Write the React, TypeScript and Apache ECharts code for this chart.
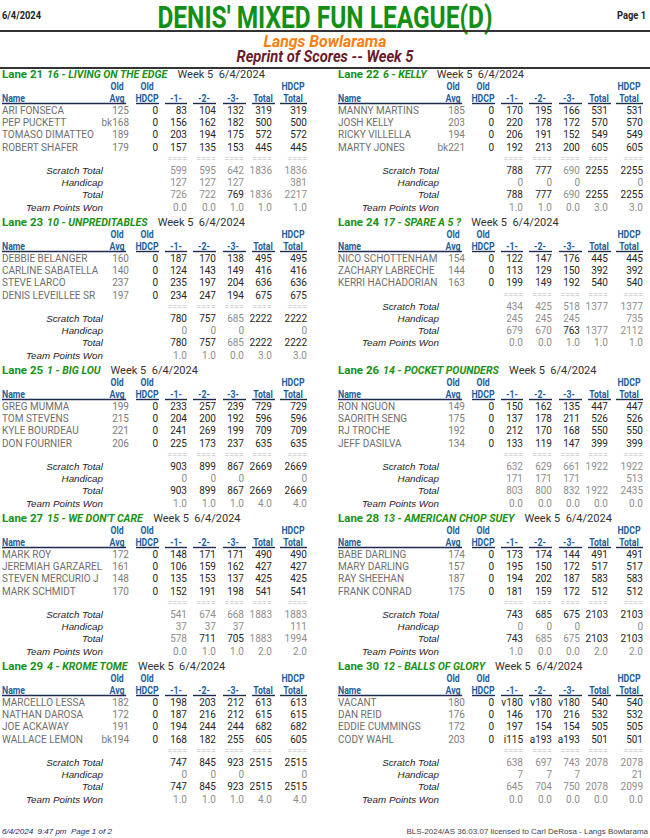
import React, { useEffect, useRef } from "react";
import * as echarts from "echarts";

// ---------- Report texts ----------
const REPORT_DATE = "6/4/2024";
const LEAGUE_TITLE = "DENIS' MIXED FUN LEAGUE(D)";
const PAGE_LABEL = "Page 1";
const CENTER_NAME = "Langs Bowlarama";
const SUBTITLE = "Reprint of Scores -- Week 5";
const WEEK_LABEL = "Week 5  6/4/2024";
const FOOTER_LEFT = "6/4/2024  9:47 pm  Page 1 of 2";
const FOOTER_RIGHT = "BLS-2024/AS 36.03.07 licensed to Carl DeRosa - Langs Bowlarama";
const SUMMARY_LABELS = ["Scratch Total", "Handicap", "Total", "Team Points Won"];

// ---------- Lanes & teams ----------
const LANES = ["Lane 21", "Lane 22", "Lane 23", "Lane 24", "Lane 25", "Lane 26", "Lane 27", "Lane 28", "Lane 29", "Lane 30"];
const TEAMS = [
  "16 - LIVING ON THE EDGE", "6 - KELLY", "10 - UNPREDITABLES", "17 - SPARE A 5 ?",
  "1 - BIG LOU", "14 - POCKET POUNDERS", "15 - WE DON'T CARE", "13 - AMERICAN CHOP SUEY",
  "4 - KROME TOME", "12 - BALLS OF GLORY",
];

// ---------- Players ----------
const PLAYER_NAMES = [
  ["ARI FONSECA", "PEP PUCKETT", "TOMASO DIMATTEO", "ROBERT SHAFER"],
  ["MANNY MARTINS", "JOSH KELLY", "RICKY VILLELLA", "MARTY JONES"],
  ["DEBBIE BELANGER", "CARLINE SABATELLA", "STEVE LARCO", "DENIS LEVEILLEE SR"],
  ["NICO SCHOTTENHAM", "ZACHARY LABRECHE", "KERRI HACHADORIAN"],
  ["GREG MUMMA", "TOM STEVENS", "KYLE BOURDEAU", "DON FOURNIER"],
  ["RON NGUON", "SAORITH SENG", "RJ TROCHE", "JEFF DASILVA"],
  ["MARK ROY", "JEREMIAH GARZAREL", "STEVEN MERCURIO J", "MARK SCHMIDT"],
  ["BABE DARLING", "MARY DARLING", "RAY SHEEHAN", "FRANK CONRAD"],
  ["MARCELLO LESSA", "NATHAN DAROSA", "JOE ACKAWAY", "WALLACE LEMON"],
  ["VACANT", "DAN REID", "EDDIE CUMMINGS", "CODY WAHL"],
];
const OLD_AVG = [
  ["125", "bk168", "189", "179"],
  ["185", "203", "194", "bk221"],
  ["160", "140", "237", "197"],
  ["154", "144", "163"],
  ["199", "215", "221", "206"],
  ["149", "175", "192", "134"],
  ["172", "161", "148", "170"],
  ["174", "157", "187", "175"],
  ["182", "172", "191", "bk194"],
  ["180", "176", "172", "203"],
];
const OLD_HDCP = [
  [0, 0, 0, 0], [0, 0, 0, 0], [0, 0, 0, 0], [0, 0, 0], [0, 0, 0, 0],
  [0, 0, 0, 0], [0, 0, 0, 0], [0, 0, 0, 0], [0, 0, 0, 0], [0, 0, 0, 0],
];
const GAME_SCORES = [
  [["83", "104", "132"], ["156", "162", "182"], ["203", "194", "175"], ["157", "135", "153"]],
  [["170", "195", "166"], ["220", "178", "172"], ["206", "191", "152"], ["192", "213", "200"]],
  [["187", "170", "138"], ["124", "143", "149"], ["235", "197", "204"], ["234", "247", "194"]],
  [["122", "147", "176"], ["113", "129", "150"], ["199", "149", "192"]],
  [["233", "257", "239"], ["204", "200", "192"], ["241", "269", "199"], ["225", "173", "237"]],
  [["150", "162", "135"], ["137", "178", "211"], ["212", "170", "168"], ["133", "119", "147"]],
  [["148", "171", "171"], ["106", "159", "162"], ["135", "153", "137"], ["152", "191", "198"]],
  [["173", "174", "144"], ["195", "150", "172"], ["194", "202", "187"], ["181", "159", "172"]],
  [["198", "203", "212"], ["187", "216", "212"], ["194", "244", "244"], ["168", "182", "255"]],
  [["v180", "v180", "v180"], ["146", "170", "216"], ["197", "154", "154"], ["i115", "a193", "a193"]],
];
const SERIES_TOTAL = [
  [319, 500, 572, 445], [531, 570, 549, 605], [495, 416, 636, 675], [445, 392, 540],
  [729, 596, 709, 635], [447, 526, 550, 399], [490, 427, 425, 541], [491, 517, 583, 512],
  [613, 615, 682, 605], [540, 532, 505, 501],
];
const HDCP_SERIES_TOTAL = [
  [319, 500, 572, 445], [531, 570, 549, 605], [495, 416, 636, 675], [445, 392, 540],
  [729, 596, 709, 635], [447, 526, 550, 399], [490, 427, 425, 541], [491, 517, 583, 512],
  [613, 615, 682, 605], [540, 532, 505, 501],
];

// ---------- Team summaries: game1, game2, game3, series, hdcp series ----------
const SCRATCH_TOTAL = [
  [599, 595, 642, 1836, 1836], [788, 777, 690, 2255, 2255], [780, 757, 685, 2222, 2222],
  [434, 425, 518, 1377, 1377], [903, 899, 867, 2669, 2669], [632, 629, 661, 1922, 1922],
  [541, 674, 668, 1883, 1883], [743, 685, 675, 2103, 2103], [747, 845, 923, 2515, 2515],
  [638, 697, 743, 2078, 2078],
];
const HANDICAP = [
  [127, 127, 127, null, 381], [0, 0, 0, null, 0], [0, 0, 0, null, 0],
  [245, 245, 245, null, 735], [0, 0, 0, null, 0], [171, 171, 171, null, 513],
  [37, 37, 37, null, 111], [0, 0, 0, null, 0], [0, 0, 0, null, 0],
  [7, 7, 7, null, 21],
];
const TEAM_TOTAL = [
  [726, 722, 769, 1836, 2217], [788, 777, 690, 2255, 2255], [780, 757, 685, 2222, 2222],
  [679, 670, 763, 1377, 2112], [903, 899, 867, 2669, 2669], [803, 800, 832, 1922, 2435],
  [578, 711, 705, 1883, 1994], [743, 685, 675, 2103, 2103], [747, 845, 923, 2515, 2515],
  [645, 704, 750, 2078, 2099],
];
const POINTS_WON = [
  [0, 0, 1, 1, 1], [1, 1, 0, 3, 3], [1, 1, 0, 3, 3], [0, 0, 1, 1, 1], [1, 1, 1, 4, 4],
  [0, 0, 0, 0, 0], [0, 1, 1, 2, 2], [1, 0, 0, 2, 2], [1, 1, 1, 4, 4], [0, 0, 0, 0, 0],
];
// emphasised (dark) cells in the scratch and total rows
const SCRATCH_EMPH = [
  [0, 0, 0, 0, 0], [1, 1, 0, 1, 1], [1, 1, 0, 1, 1], [0, 0, 0, 0, 0], [1, 1, 1, 1, 1],
  [0, 0, 0, 0, 0], [0, 0, 0, 0, 0], [1, 1, 1, 1, 1], [1, 1, 1, 1, 1], [0, 0, 0, 0, 0],
];
const TOTAL_EMPH = [
  [0, 0, 1, 0, 0], [1, 1, 0, 1, 1], [1, 1, 0, 1, 1], [0, 0, 1, 0, 0], [1, 1, 1, 1, 1],
  [0, 0, 0, 0, 0], [0, 1, 1, 0, 0], [1, 0, 0, 1, 1], [1, 1, 1, 1, 1], [0, 0, 0, 0, 0],
];

// ---------- Styling ----------
const F_BODY = "Roboto, 'Liberation Sans', sans-serif";
const F_ARIAL = "'Liberation Sans', Arial, sans-serif";
const C_GREEN = "#1a9216";
const C_BLUE = "#1f5d9c";
const C_RULE = "#1d2b4f";
const C_NAME = "#6e6e6e";
const C_DARK = "#262626";
const C_GRAY = "#8e8e8e";
const NARROW = 0.83; // horizontal squeeze to imitate a condensed face

const COL_RIGHT = [129, 158, 187, 216, 244, 272, 307]; // avg, hdcp, g1, g2, g3, total, hdcp total
const COL_CENTER = [117, 147, 176, 204, 233, 263, 293];
const UNDERLINES = [[2, 126], [136, 159], [165, 187], [193, 216], [223, 246], [252, 275], [280, 307]];

function T(x: number, y: number, text: string, o: any) {
  const align = o.align || "left";
  return {
    type: "text",
    x,
    y,
    scaleX: o.sx || 1,
    silent: true,
    style: {
      text,
      fill: o.fill || C_DARK,
      fontSize: o.size || 10,
      fontFamily: o.family || F_BODY,
      fontWeight: o.weight || "normal",
      fontStyle: o.style || "normal",
      align,
      textAlign: align,
      verticalAlign: "middle",
      textVerticalAlign: "middle",
      rich: o.rich,
    },
  };
}
function L(x1: number, y1: number, x2: number, y2: number, stroke: string, lw: number) {
  return { type: "line", silent: true, shape: { x1, y1, x2, y2 }, style: { stroke, lineWidth: lw } };
}

function buildElements() {
  const els: any[] = [];
  // page header
  els.push(T(2, 15, REPORT_DATE, { weight: "bold", size: 11, fill: "#222", sx: 0.85 }));
  els.push(T(646, 15, PAGE_LABEL, { weight: "bold", size: 11, fill: "#222", align: "right", sx: 0.85 }));
  els.push(T(325, 17, LEAGUE_TITLE, { weight: "bold", size: 31, fill: "#139013", align: "center", sx: 0.79 }));
  els.push(L(0, 31, 650, 31, "#333", 2));
  els.push(T(325, 41, CENTER_NAME, { weight: "bold", style: "italic", size: 16.5, fill: "#ff7f0f", align: "center", sx: 0.96 }));
  els.push(T(325, 57, SUBTITLE, { weight: "bold", style: "italic", size: 16, fill: "#6a1c2c", align: "center", sx: 0.92 }));
  els.push(L(0, 68, 650, 68, "#333", 2));

  const baseY = 74;
  const blockDY = 148;
  const rowH = 12.2;
  const fmt = (v: number | null, dec?: boolean) => (v === null ? "" : dec ? v.toFixed(1) : String(v));

  for (let k = 0; k < LANES.length; k++) {
    const bx = (k % 2) * 336;
    const by = baseY + Math.floor(k / 2) * blockDY;
    // lane header (rich text)
    els.push(
      T(bx + 2, by, `{lane|${LANES[k]}}{team|${TEAMS[k]}}{wk|${WEEK_LABEL}}`, {
        size: 11,
        fill: "#333",
        rich: {
          lane: { fill: C_GREEN, fontWeight: "bold", fontSize: 11.5, fontFamily: F_BODY },
          team: { fill: C_GREEN, fontWeight: "bold", fontStyle: "italic", fontSize: 10.6, fontFamily: F_BODY, padding: [0, 0, 0, 4] },
          wk: { fill: "#333", fontSize: 11, fontFamily: F_BODY, padding: [0, 0, 0, 10] },
        },
      })
    );
    // column headers
    const hOpt = { weight: "bold", size: 10.5, fill: C_BLUE, align: "center", sx: NARROW };
    const y1 = by + 12.5;
    const y2 = by + 24.5;
    els.push(T(bx + COL_CENTER[0], y1, "Old", hOpt));
    els.push(T(bx + COL_CENTER[1], y1, "Old", hOpt));
    els.push(T(bx + COL_CENTER[6], y1, "HDCP", hOpt));
    els.push(T(bx + 2, y2, "Name", { ...hOpt, align: "left" }));
    const heads = ["Avg", "HDCP", "-1-", "-2-", "-3-", "Total", "Total"];
    heads.forEach((h, i) => els.push(T(bx + COL_CENTER[i], y2, h, hOpt)));
    UNDERLINES.forEach(([a, b]) => els.push(L(bx + a, by + 29.5, bx + b, by + 29.5, C_RULE, 1.4)));

    // players
    const names = PLAYER_NAMES[k];
    names.forEach((nm, i) => {
      const y = by + 36.5 + i * rowH;
      els.push(T(bx + 2, y, nm, { fill: C_NAME }));
      els.push(T(bx + COL_RIGHT[0], y, OLD_AVG[k][i], { fill: "#7c7c7c", align: "right" }));
      els.push(T(bx + COL_RIGHT[1], y, String(OLD_HDCP[k][i]), { fill: C_DARK, align: "right" }));
      GAME_SCORES[k][i].forEach((g, j) => els.push(T(bx + COL_RIGHT[2 + j], y, g, { fill: C_DARK, align: "right" })));
      els.push(T(bx + COL_RIGHT[5], y, String(SERIES_TOTAL[k][i]), { fill: C_DARK, align: "right" }));
      els.push(T(bx + COL_RIGHT[6], y, String(HDCP_SERIES_TOTAL[k][i]), { fill: C_DARK, align: "right" }));
    });
    const n = names.length;
    const yEq = by + 36.5 + n * rowH - 0.5;
    for (let j = 2; j < 7; j++) els.push(T(bx + COL_RIGHT[j], yEq, "====", { fill: "#b4b4b4", align: "right", size: 9 }));

    const rows = [SCRATCH_TOTAL[k], HANDICAP[k], TEAM_TOTAL[k], POINTS_WON[k]];
    const emph = [SCRATCH_EMPH[k], null, TOTAL_EMPH[k], null];
    rows.forEach((vals, r) => {
      const y = by + 36.5 + (n + 1 + r) * rowH - 1;
      els.push(T(bx + 103, y, SUMMARY_LABELS[r], { family: F_ARIAL, style: "italic", size: 9.8, fill: "#1e1e1e", align: "right" }));
      (vals as (number | null)[]).forEach((v, j) => {
        const e = emph[r] ? (emph[r] as number[])[j] : 0;
        els.push(T(bx + COL_RIGHT[2 + j], y, fmt(v, r === 3), { fill: e ? C_DARK : C_GRAY, align: "right" }));
      });
    });
  }

  // footer
  els.push(T(2, 831, FOOTER_LEFT, { family: F_ARIAL, style: "italic", size: 8, fill: "#1b2a66" }));
  els.push(T(648, 831, FOOTER_RIGHT, { family: F_ARIAL, size: 8, fill: "#444", align: "right" }));
  return els;
}

export default function App() {
  const ref = useRef<HTMLDivElement>(null);
  useEffect(() => {
    if (!ref.current) return;
    const chart = echarts.init(ref.current, undefined, { renderer: "svg" });
    chart.setOption({
      animation: false,
      backgroundColor: "#ffffff",
      graphic: { elements: buildElements() },
    });
    return () => chart.dispose();
  }, []);
  return (
    <div
      ref={ref}
      style={{ position: "fixed", left: 0, top: 0, width: 650, height: 838, background: "#fff" }}
    />
  );
}
